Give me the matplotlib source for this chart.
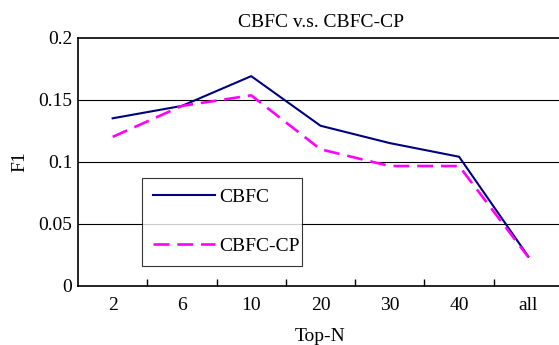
import numpy as np
import matplotlib.pyplot as plt

categories = ["2", "6", "10", "20", "30", "40", "all"]
cbfc = [0.135, 0.145, 0.169, 0.129, 0.115, 0.104, 0.0235]
cbfc_cp = [0.120, 0.145, 0.1535, 0.110, 0.0965, 0.0965, 0.023]

plt.rcParams['font.family'] = ['Liberation Serif', 'DejaVu Serif']

fig = plt.figure(figsize=(5.59, 3.45), dpi=100)
ax = fig.add_axes([78 / 559, 1 - 285.7 / 345, 485 / 559, 248 / 345])

x = np.arange(len(categories))
ax.plot(x, cbfc, color='#000080', lw=1.5, label='CBFC')
ax.plot(x, cbfc_cp, color='#ff00ff', lw=1.9, dashes=(6, 3), label='CBFC-CP')

ax.set_xlim(-0.5, len(categories) - 0.5)
ax.set_ylim(0, 0.2)
ax.set_yticks([0, 0.05, 0.1, 0.15, 0.2])
ax.set_yticklabels(["0", "0.05", "0.1", "0.15", "0.2"])
ax.set_xticks(x)
ax.set_xticklabels(categories)
ax.set_xticks(np.arange(0.5, len(categories) - 1, 1), minor=True)
ax.tick_params(axis='x', which='major', length=0, pad=8, labelsize=14)
ax.tick_params(axis='x', which='minor', direction='in', length=5, width=1)
ax.tick_params(axis='y', length=0, pad=4, labelsize=14)

for v in [0.05, 0.1, 0.15]:
    ax.axhline(v, color='black', lw=0.8, zorder=0)

ax.spines['right'].set_visible(False)
for s in ['left', 'top', 'bottom']:
    ax.spines[s].set_linewidth(1.2)

ax.set_title("CBFC v.s. CBFC-CP", fontsize=14, pad=8)
ax.set_xlabel("Top-N", fontsize=14, labelpad=10)
ax.set_ylabel("F1", fontsize=14, labelpad=7)

leg = ax.legend(loc='lower left', bbox_to_anchor=(0.1326, 0.0806, 0.33, 0.363),
                mode='expand', fontsize=14, frameon=True, fancybox=False,
                handlelength=3.2, labelspacing=1.6,
                borderaxespad=0, borderpad=0.55, handletextpad=0.2)
leg.get_frame().set_edgecolor('black')
leg.get_frame().set_linewidth(0.8)

fig.savefig("out.png", dpi=100)
